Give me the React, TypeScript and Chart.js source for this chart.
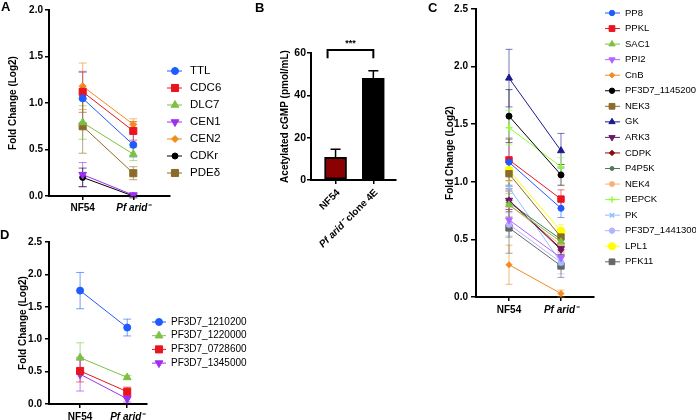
import React, { useEffect, useRef } from 'react';
import { Chart, registerables } from 'chart.js';
import { drawPoint } from 'chart.js/helpers';

Chart.register(...registerables);

const FONT = "'Liberation Sans', Arial, Helvetica, sans-serif";

const groups = ['NF54', 'Pf arid⁻'];

// ---------- Panel A ----------
const aGenes = ['TTL', 'CDC6', 'DLC7', 'CEN1', 'CEN2', 'CDKr', 'PDEδ'];
const aNF54 = [1.05, 1.12, 0.79, 0.23, 1.18, 0.2, 0.75];
const aArid = [0.55, 0.7, 0.45, 0.01, 0.77, 0.0, 0.245];
const aNF54Err = [0.28, 0.22, 0.18, 0.13, 0.25, 0.1, 0.29];
const aAridErr = [0.13, 0.1, 0.07, 0.02, 0.06, 0.02, 0.07];
const aColors = ['#1f5bff', '#e8141e', '#7cc242', '#9b30f0', '#f28a1e', '#000000', '#8c6a2a'];
const aStyles = ['circle', 'rect', 'triangle', 'triangle', 'rectRot', 'circle', 'rect'];
const aRot = [0, 0, 0, 180, 0, 0, 0];
const aRadius = [3.5, 5, 4.5, 4.5, 3.5, 3, 5];

// ---------- Panel B ----------
const bLabelSegments = [
  [{ t: 'NF54', i: false }],
  [{ t: 'Pf arid⁻', i: true }, { t: ' clone 4E', i: false }],
];
const bValues = [10.7, 48.0];
const bErr = [3.8, 3.6];
const bColors = ['#8b0000', '#000000'];
const bBracketTop = 61.4;
const bBracketEnd = 57.5;
const bStarsAt = 64.5;
const bStars = '***';

// ---------- Panel C ----------
const cGenes = ['PP8', 'PPKL', 'SAC1', 'PPI2', 'CnB', 'PF3D7_1145200', 'NEK3', 'GK', 'ARK3', 'CDPK', 'P4P5K', 'NEK4', 'PEPCK', 'PK', 'PF3D7_1441300', 'LPL1', 'PFK11'];
const cNF54 = [1.17, 1.19, 0.8, 0.67, 0.28, 1.57, 1.07, 1.9, 0.84, 0.84, 0.82, 0.8, 1.47, 0.95, 0.63, 1.1, 0.6];
const cArid = [0.77, 0.85, 0.48, 0.34, 0.03, 1.06, 0.52, 1.27, 0.42, 0.41, 0.5, 0.45, 1.13, 0.3, 0.3, 0.57, 0.27];
const cNF54Err = [0.21, 0.18, 0.1, 0.09, 0.17, 0.23, 0.1, 0.25, 0.08, 0.1, 0.3, 0.12, 0.15, 0.1, 0.1, 0.1, 0.22];
const cAridErr = [0.08, 0.08, 0.05, 0.05, 0.03, 0.09, 0.06, 0.15, 0.05, 0.05, 0.05, 0.06, 0.08, 0.1, 0.06, 0.06, 0.1];
const cColors = ['#1f5bff', '#e8141e', '#7cc242', '#b266ff', '#f28a1e', '#000000', '#8c6a2a', '#1a1a8f', '#6b1a6b', '#8b0a0a', '#4d7a5a', '#f5b07a', '#8fff3a', '#8fc0ff', '#b3b3ff', '#ffff00', '#666666'];
const cStyles = ['circle', 'rect', 'triangle', 'triangle', 'rectRot', 'circle', 'rect', 'triangle', 'triangle', 'rectRot', 'circle', 'star', 'cross', 'crossRot', 'circle', 'circle', 'rect'];
const cRot = [0, 0, 0, 180, 0, 0, 0, 0, 180, 0, 0, 0, 0, 0, 0, 0, 0];
const cRadius = [3, 4.5, 4, 4, 3, 3, 4.5, 4, 4, 3, 2.2, 3.5, 3.5, 3.5, 3, 4, 4.5];

// ---------- Panel D ----------
const dGenes = ['PF3D7_1210200', 'PF3D7_1220000', 'PF3D7_0728600', 'PF3D7_1345000'];
const dNF54 = [1.75, 0.715, 0.51, 0.46];
const dArid = [1.18, 0.41, 0.19, 0.08];
const dNF54Err = [0.28, 0.23, 0.17, 0.26];
const dAridErr = [0.13, 0.03, 0.07, 0.05];
const dColors = ['#1f5bff', '#7cc242', '#e8141e', '#9b30f0'];
const dStyles = ['circle', 'triangle', 'rect', 'triangle'];
const dRot = [0, 0, 0, 180];
const dRadius = [3.5, 4.5, 5, 4.5];

const yTitle = 'Fold Change (Log2)';
const bYTitle = 'Acetylated cGMP (pmol/mL)';

// ---------- plugins ----------
function errorBarPlugin(cap: number, upOnly: boolean, after: boolean, alpha: number, lw: number) {
  const draw = (chart: any) => {
    const ctx = chart.ctx;
    const ys = chart.scales.y;
    chart.data.datasets.forEach((ds: any, i: number) => {
      const errs = ds.errorBars;
      if (!errs) return;
      const meta = chart.getDatasetMeta(i);
      meta.data.forEach((el: any, j: number) => {
        const d = ds.data[j];
        const val = typeof d === 'number' ? d : d.y;
        const x = el.x;
        const yT = ys.getPixelForValue(val + errs[j]);
        const yB = ys.getPixelForValue(upOnly ? val : val - errs[j]);
        const color = Array.isArray(ds.errorColor) ? ds.errorColor[j] : ds.errorColor || ds.borderColor;
        ctx.save();
        ctx.globalAlpha = alpha;
        ctx.strokeStyle = color;
        ctx.lineWidth = lw;
        ctx.beginPath();
        ctx.moveTo(x, yT);
        ctx.lineTo(x, yB);
        ctx.moveTo(x - cap / 2, yT);
        ctx.lineTo(x + cap / 2, yT);
        if (!upOnly) {
          ctx.moveTo(x - cap / 2, yB);
          ctx.lineTo(x + cap / 2, yB);
        }
        ctx.stroke();
        ctx.restore();
      });
    });
  };
  return after
    ? { id: 'errorBarsAfter', afterDatasetsDraw: draw }
    : { id: 'errorBarsBefore', beforeDatasetsDraw: draw };
}

function legendPlugin(cfg: { x1: number; x2: number; mx: number; tx: number; y0: number; spacing: number; size: number; scale: number }) {
  return {
    id: 'lineLegend',
    afterDraw(chart: any) {
      const ctx = chart.ctx;
      chart.data.datasets.forEach((ds: any, i: number) => {
        const y = cfg.y0 + i * cfg.spacing;
        ctx.save();
        ctx.strokeStyle = ds.borderColor;
        ctx.lineWidth = 1;
        ctx.beginPath();
        ctx.moveTo(cfg.x1, y);
        ctx.lineTo(cfg.x2, y);
        ctx.stroke();
        ctx.fillStyle = ds.backgroundColor;
        ctx.strokeStyle = ds.borderColor;
        ctx.lineWidth = ds.pointBorderWidth;
        drawPoint(ctx, {
          pointStyle: ds.pointStyle,
          rotation: ds.pointRotation || 0,
          radius: ds.pointRadius * cfg.scale,
          borderWidth: ds.pointBorderWidth,
        } as any, cfg.mx, y);
        ctx.fillStyle = '#000';
        ctx.font = `${cfg.size}px ${FONT}`;
        ctx.textBaseline = 'middle';
        ctx.textAlign = 'left';
        ctx.fillText(ds.label, cfg.tx, y);
        ctx.restore();
      });
    },
  };
}

const axisGrid = (tl: number) => ({
  display: true,
  drawOnChartArea: false,
  drawTicks: true,
  tickLength: tl,
  color: '#000',
  lineWidth: 1.5,
  offset: false,
});
const axisBorder = { display: true, color: '#000', width: 2 };

type LineOpts = {
  labels: string[]; nf: number[]; ar: number[]; nfErr: number[]; arErr: number[];
  colors: string[]; styles: string[]; rot: number[]; radius: number[];
  padding: any; xmin: number; xmax: number; xh: number; xPad: number;
  ymax: number; yw: number; yPad: number; ytl: number; titlePad: number;
  cap: number; legend: any;
};

function makeLineConfig(o: LineOpts): any {
  const datasets = o.labels.map((lab, i) => ({
    label: lab,
    data: [{ x: 0, y: o.nf[i] }, { x: 1, y: o.ar[i] }],
    borderColor: o.colors[i],
    backgroundColor: o.colors[i],
    borderWidth: 1,
    pointStyle: o.styles[i],
    pointRadius: o.radius[i],
    pointRotation: o.rot[i],
    pointBorderWidth: ['cross', 'crossRot', 'star'].includes(o.styles[i]) ? 1.5 : 1,
    errorBars: [o.nfErr[i], o.arErr[i]],
  }));
  return {
    type: 'line',
    data: { datasets },
    options: {
      animation: false,
      responsive: false,
      devicePixelRatio: 1,
      events: [],
      layout: { autoPadding: false, padding: o.padding },
      plugins: { legend: { display: false }, tooltip: { enabled: false } },
      scales: {
        x: {
          type: 'linear',
          min: o.xmin,
          max: o.xmax,
          offset: false,
          afterBuildTicks: (s: any) => { s.ticks = [{ value: 0 }, { value: 1 }]; },
          afterFit: (s: any) => { s.height = o.xh; },
          grid: axisGrid(4),
          border: axisBorder,
          ticks: {
            padding: o.xPad,
            color: '#000',
            maxRotation: 0,
            autoSkip: false,
            callback: (v: any) => groups[v],
            font: (c: any) => ({ family: FONT, size: 10, weight: 'bold', style: c.tick && c.tick.value === 1 ? 'italic' : 'normal' }),
          },
        },
        y: {
          min: 0,
          max: o.ymax,
          afterFit: (s: any) => { s.width = o.yw; },
          grid: axisGrid(o.ytl),
          border: axisBorder,
          ticks: {
            stepSize: 0.5,
            padding: o.yPad,
            color: '#000',
            font: { family: FONT, size: 10, weight: 'bold' },
            callback: (v: any) => Number(v).toFixed(1),
          },
          title: {
            display: true,
            text: yTitle,
            color: '#000',
            font: { family: FONT, size: 10, weight: 'bold' },
            padding: { top: o.titlePad, bottom: 0 },
          },
        },
      },
    },
    plugins: [errorBarPlugin(o.cap, false, false, 0.6, 1), legendPlugin(o.legend)],
  };
}

const makeA = () =>
  makeLineConfig({
    labels: aGenes, nf: aNF54, ar: aArid, nfErr: aNF54Err, arErr: aAridErr,
    colors: aColors, styles: aStyles, rot: aRot, radius: aRadius,
    padding: { left: 0, top: 10, right: 70, bottom: 0 },
    xmin: -0.665, xmax: 1.725, xh: 22, xPad: 2,
    ymax: 2.0, yw: 49, yPad: 2, ytl: 4, titlePad: 7, cap: 8,
    legend: { x1: 167, x2: 182, mx: 175, tx: 190, y0: 71, spacing: 17, size: 11.5, scale: 1 },
  });

const makeC = () =>
  makeLineConfig({
    labels: cGenes, nf: cNF54, ar: cArid, nfErr: cNF54Err, arErr: cAridErr,
    colors: cColors, styles: cStyles, rot: cRot, radius: cRadius,
    padding: { left: 0, top: 9, right: 102, bottom: 0 },
    xmin: -0.635, xmax: 1.635, xh: 21, xPad: 3,
    ymax: 2.5, yw: 76, yPad: 3, ytl: 5, titlePad: 44, cap: 7,
    legend: { x1: 205, x2: 220, mx: 212, tx: 225, y0: 13, spacing: 15.55, size: 9.5, scale: 0.9 },
  });

const makeD = () =>
  makeLineConfig({
    labels: dGenes, nf: dNF54, ar: dArid, nfErr: dNF54Err, arErr: dAridErr,
    colors: dColors, styles: dStyles, rot: dRot, radius: dRadius,
    padding: { left: 0, top: 17, right: 113, bottom: 0 },
    xmin: -0.66, xmax: 1.42, xh: 16, xPad: 3,
    ymax: 2.5, yw: 49, yPad: 3, ytl: 4, titlePad: 17, cap: 8,
    legend: { x1: 152, x2: 166, mx: 159, tx: 171, y0: 97, spacing: 13.7, size: 10, scale: 1 },
  });

const bracketPlugin = {
  id: 'bracket',
  afterDraw(chart: any) {
    const ctx = chart.ctx;
    const xs = chart.scales.x;
    const ys = chart.scales.y;
    const x0 = xs.getPixelForValue(0) - 8;
    const x1 = xs.getPixelForValue(1);
    const yT = ys.getPixelForValue(bBracketTop);
    const yE = ys.getPixelForValue(bBracketEnd);
    ctx.save();
    ctx.strokeStyle = '#000';
    ctx.lineWidth = 2;
    ctx.beginPath();
    ctx.moveTo(x0, yE);
    ctx.lineTo(x0, yT);
    ctx.lineTo(x1, yT);
    ctx.lineTo(x1, yE);
    ctx.stroke();
    ctx.fillStyle = '#000';
    ctx.font = `bold 9px ${FONT}`;
    ctx.textAlign = 'center';
    ctx.textBaseline = 'middle';
    ctx.fillText(bStars, (x0 + x1) / 2, ys.getPixelForValue(bStarsAt));
    ctx.restore();
  },
};

const bLabelPlugin = {
  id: 'bLabels',
  afterDraw(chart: any) {
    const ctx = chart.ctx;
    const xs = chart.scales.x;
    bLabelSegments.forEach((segs, i) => {
      const px = xs.getPixelForValue(i);
      const py = xs.top + 11;
      ctx.save();
      ctx.translate(px + 3, py);
      ctx.rotate(-Math.PI / 4);
      ctx.fillStyle = '#000';
      ctx.textBaseline = 'middle';
      ctx.textAlign = 'left';
      const fonts = segs.map((s) => `${s.i ? 'italic ' : ''}bold 10px ${FONT}`);
      let total = 0;
      const widths = segs.map((s, k) => {
        ctx.font = fonts[k];
        const w = ctx.measureText(s.t).width;
        total += w;
        return w;
      });
      let cx = -total;
      segs.forEach((s, k) => {
        ctx.font = fonts[k];
        ctx.fillText(s.t, cx, 0);
        cx += widths[k];
      });
      ctx.restore();
    });
  },
};

const makeB = (): any => ({
  type: 'bar',
  data: {
    datasets: [
      {
        label: 'Acetylated cGMP',
        data: bValues.map((v, i) => ({ x: i, y: v })),
        backgroundColor: bColors,
        borderColor: '#000',
        borderWidth: 2,
        borderSkipped: false,
        barThickness: 22,
        errorBars: bErr,
        errorColor: '#000',
      },
    ],
  },
  options: {
    animation: false,
    responsive: false,
    devicePixelRatio: 1,
    events: [],
    layout: { autoPadding: false, padding: { left: 0, top: 53, right: 4, bottom: 0 } },
    plugins: { legend: { display: false }, tooltip: { enabled: false } },
    scales: {
      x: {
        type: 'linear',
        min: -0.65,
        max: 1.6,
        offset: false,
        afterBuildTicks: (s: any) => { s.ticks = [{ value: 0 }, { value: 1 }]; },
        afterFit: (s: any) => { s.height = 80; },
        grid: axisGrid(4),
        border: axisBorder,
        ticks: { display: false },
      },
      y: {
        min: 0,
        max: 60,
        afterFit: (s: any) => { s.width = 71; },
        grid: axisGrid(4),
        border: axisBorder,
        ticks: {
          stepSize: 20,
          padding: 1,
          color: '#000',
          font: { family: FONT, size: 10.5, weight: 'bold' },
        },
        title: {
          display: true,
          text: bYTitle,
          color: '#000',
          font: { family: FONT, size: 10, weight: 'bold' },
          padding: { top: 39, bottom: 0 },
        },
      },
    },
  },
  plugins: [errorBarPlugin(10, true, true, 1, 1.5), bracketPlugin, bLabelPlugin],
});

function ChartPanel(props: { left: number; top: number; width: number; height: number; make: () => any }) {
  const ref = useRef<HTMLCanvasElement | null>(null);
  useEffect(() => {
    const chart = new Chart(ref.current as HTMLCanvasElement, props.make());
    return () => chart.destroy();
  }, []);
  return (
    <canvas
      ref={ref}
      width={props.width}
      height={props.height}
      style={{ position: 'absolute', left: props.left, top: props.top, width: props.width, height: props.height, display: 'block' }}
    />
  );
}

const letterStyle = (left: number, top: number): React.CSSProperties => ({
  position: 'absolute',
  left,
  top,
  fontFamily: FONT,
  fontWeight: 'bold',
  fontSize: 13,
  lineHeight: '13px',
  color: '#000',
});

export default function App() {
  return (
    <div style={{ position: 'fixed', left: 0, top: 0, width: 696, height: 420, background: '#fff', overflow: 'hidden' }}>
      <ChartPanel left={0} top={0} width={240} height={218} make={makeA} />
      <ChartPanel left={240} top={0} width={160} height={260} make={makeB} />
      <ChartPanel left={400} top={0} width={296} height={318} make={makeC} />
      <ChartPanel left={0} top={225} width={260} height={195} make={makeD} />
      <div style={letterStyle(1, 0)}>A</div>
      <div style={letterStyle(255, 1)}>B</div>
      <div style={letterStyle(428, 1)}>C</div>
      <div style={letterStyle(0, 228)}>D</div>
    </div>
  );
}
